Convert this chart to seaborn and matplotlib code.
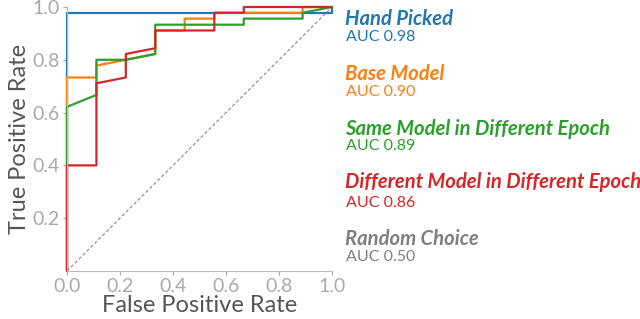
import matplotlib
matplotlib.use("Agg")
import matplotlib.pyplot as plt
import seaborn as sns
import pandas as pd

# ROC curves (fpr steps of 1/9)
names = [
    "Hand Picked",
    "Base Model",
    "Same Model in Different Epoch",
    "Different Model in Different Epoch",
]
auc_values = [0.98, 0.90, 0.89, 0.86]
colors = ["#1f77b4", "#ff7f0e", "#2ca02c", "#d62728"]

fpr_hand = [0.0, 0.0, 1.0, 1.0]
tpr_hand = [0.0, 0.978, 0.978, 1.0]

fpr_base = [0.0, 0.0, 0.111, 0.111, 0.333, 0.333, 0.444, 0.444, 0.556, 0.556, 0.889, 0.889, 1.0]
tpr_base = [0.0, 0.733, 0.733, 0.778, 0.822, 0.911, 0.911, 0.956, 0.956, 0.978, 0.978, 1.0, 1.0]

fpr_same = [0.0, 0.0, 0.111, 0.111, 0.222, 0.333, 0.333, 0.667, 0.667, 0.889, 0.889, 1.0]
tpr_same = [0.0, 0.622, 0.667, 0.8, 0.8, 0.822, 0.933, 0.933, 0.956, 0.956, 0.978, 1.0]

fpr_diff = [0.0, 0.0, 0.111, 0.111, 0.222, 0.222, 0.333, 0.333, 0.556, 0.556, 0.667, 0.667, 1.0]
tpr_diff = [0.0, 0.4, 0.4, 0.711, 0.733, 0.822, 0.844, 0.911, 0.911, 0.978, 0.978, 1.0, 1.0]

random_fpr = [0.0, 1.0]
random_tpr = [0.0, 1.0]
random_name = "Random Choice"
random_auc = 0.50
random_color = "#7f7f7f"

x_ticks = [0.0, 0.2, 0.4, 0.6, 0.8, 1.0]
y_ticks = [0.2, 0.4, 0.6, 0.8, 1.0]

curves = [(fpr_hand, tpr_hand), (fpr_base, tpr_base), (fpr_same, tpr_same), (fpr_diff, tpr_diff)]
rows = []
for name, (fx, ty) in zip(names, curves):
    for a, b in zip(fx, ty):
        rows.append({"fpr": a, "tpr": b, "model": name})
df = pd.DataFrame(rows)

sns.set_style("white")
plt.rcParams["font.family"] = ["Lato", "DejaVu Sans"]

fig = plt.figure(figsize=(6.4, 3.19), dpi=100)
ax = fig.add_axes([67 / 640, 48 / 319, 265 / 640, 264 / 319])

ax.plot(random_fpr, random_tpr, color="#888888", lw=0.8, ls=(0, (3, 2)))
sns.lineplot(
    data=df, x="fpr", y="tpr", hue="model", hue_order=names,
    palette=colors, sort=False, estimator=None, lw=1.6,
    legend=False, ax=ax, clip_on=False
)

ax.set_xlim(0, 1)
ax.set_ylim(0, 1)
ax.set_xticks(x_ticks)
ax.set_yticks(y_ticks)
ax.set_xticklabels([f"{t:.1f}" for t in x_ticks])
ax.set_yticklabels([f"{t:.1f}" for t in y_ticks])
ax.tick_params(axis="both", colors="#aaaaaa", labelsize=14, length=3, width=0.8,
               direction="out", bottom=True, left=True, labelcolor="#aaaaaa", pad=2)
for s in ["top", "right"]:
    ax.spines[s].set_visible(False)
for s in ["left", "bottom"]:
    ax.spines[s].set_color("#bbbbbb")
    ax.spines[s].set_linewidth(0.8)

ax.set_xlabel("False Positive Rate", fontsize=17, color="#555555", labelpad=0)
ax.set_ylabel("True Positive Rate", fontsize=17, color="#555555", labelpad=2)

# legend as text block on the right
title_y = [25, 80, 135, 188, 245]
auc_y = [41, 96, 150, 207, 261]
all_names = names + [random_name]
all_auc = auc_values + [random_auc]
all_colors = colors + [random_color]
for n, a, c, ty, ay in zip(all_names, all_auc, all_colors, title_y, auc_y):
    fig.text(345 / 640, 1 - ty / 319, n, color=c, fontsize=14.6,
             fontweight="bold", fontstyle="italic", va="baseline", ha="left")
    fig.text(346 / 640, 1 - ay / 319, f"AUC {a:.2f}", color=c, fontsize=11.5,
             va="baseline", ha="left")

fig.savefig("out.png", dpi=100)
